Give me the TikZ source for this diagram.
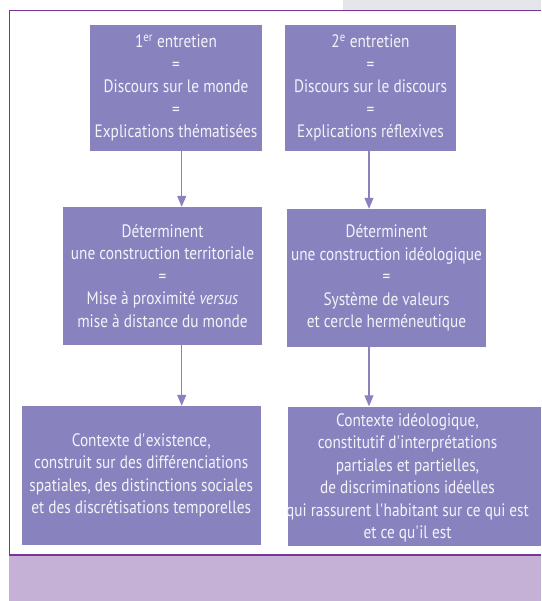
\documentclass[tikz,border=0pt]{standalone}
\usepackage{fontspec}
\setmainfont[FakeStretch=0.85]{PT Sans}
\usepackage{xcolor}
\usetikzlibrary{shapes,arrows.meta}
\definecolor{boxviolet}{RGB}{136,131,190}
\definecolor{textwhite}{RGB}{244,243,250}
\definecolor{framepurple}{RGB}{122,52,152}
\definecolor{bandlilac}{RGB}{197,176,214}
\definecolor{topgrey}{RGB}{229,230,233}

\begin{document}
\begin{tikzpicture}[x=1pt,y=-1pt]
	\useasboundingbox (0,0) rectangle (541,601);
	% page decoration
	\fill[topgrey] (343,0) rectangle (541,10);
	\fill[bandlilac] (9,556) rectangle (541,601);
	\draw[framepurple, line width=1.4pt] (541,10.5) -- (9.5,10.5) -- (9.5,555) -- (541,555);
	\tikzstyle{every node}=[font=\fontsize{18}{22.5}\selectfont, text=textwhite, fill=boxviolet, align=center, inner sep=0pt]
	\draw (176,88) node[minimum width=172pt, minimum height=126pt] (e1) {1\textsuperscript{er} entretien\\=\\Discours sur le monde\\=\\Explications thématisées};
	\draw (370.5,88) node[minimum width=171pt, minimum height=126pt] (e2) {2\textsuperscript{e} entretien\\=\\Discours sur le discours\\=\\Explications réflexives};
	\draw (162.5,276) node[minimum width=199pt, minimum height=138pt] (d1) {Déterminent\\une construction territoriale\\=\\Mise à proximité \textit{versus}\\mise à distance du monde};
	\draw (386.5,278) node[minimum width=199pt, minimum height=138pt] (d2) {Déterminent\\une construction idéologique\\=\\Système de valeurs\\et cercle herméneutique};
	\draw (141.25,475.5) node[minimum width=238.5pt, minimum height=139pt] (c1) {Contexte d\textquotesingle existence,\\construit sur des différenciations\\spatiales, des distinctions sociales\\et des discrétisations temporelles};
	\draw (414.5,476.25) node[minimum width=253pt, minimum height=139.5pt] (c2) {};
	\draw ([xshift=-7pt,yshift=-1.5pt]c2.center) node[fill=none] (t2) {Contexte idéologique,\\constitutif d\textquotesingle interprétations\\partiales et partielles,\\de discriminations idéelles\\qui rassurent l\textquotesingle habitant sur ce qui est\\et ce qu\textquotesingle il est};
	\tikzstyle{every node}=[fill=none]
	\coordinate (gauche) at (181.7,0);
	\coordinate (droite) at (369,0);
	\draw [boxviolet, line width=1.3pt, -{Triangle[width=9pt,length=11pt]}] (e1.south -| gauche) -- (d1.north -| gauche);
	\draw [boxviolet, line width=1.3pt, -{Triangle[width=9pt,length=11pt]}] (e2.south -| droite) -- (d2.north -| droite);
	\draw [boxviolet, line width=1.3pt, -{Triangle[width=9pt,length=11pt]}] (d1.south -| gauche) -- (c1.north -| gauche);
	\draw [boxviolet, line width=1.3pt, -{Triangle[width=9pt,length=11pt]}] (d2.south -| droite) -- (c2.north -| droite);
\end{tikzpicture}
\end{document}
